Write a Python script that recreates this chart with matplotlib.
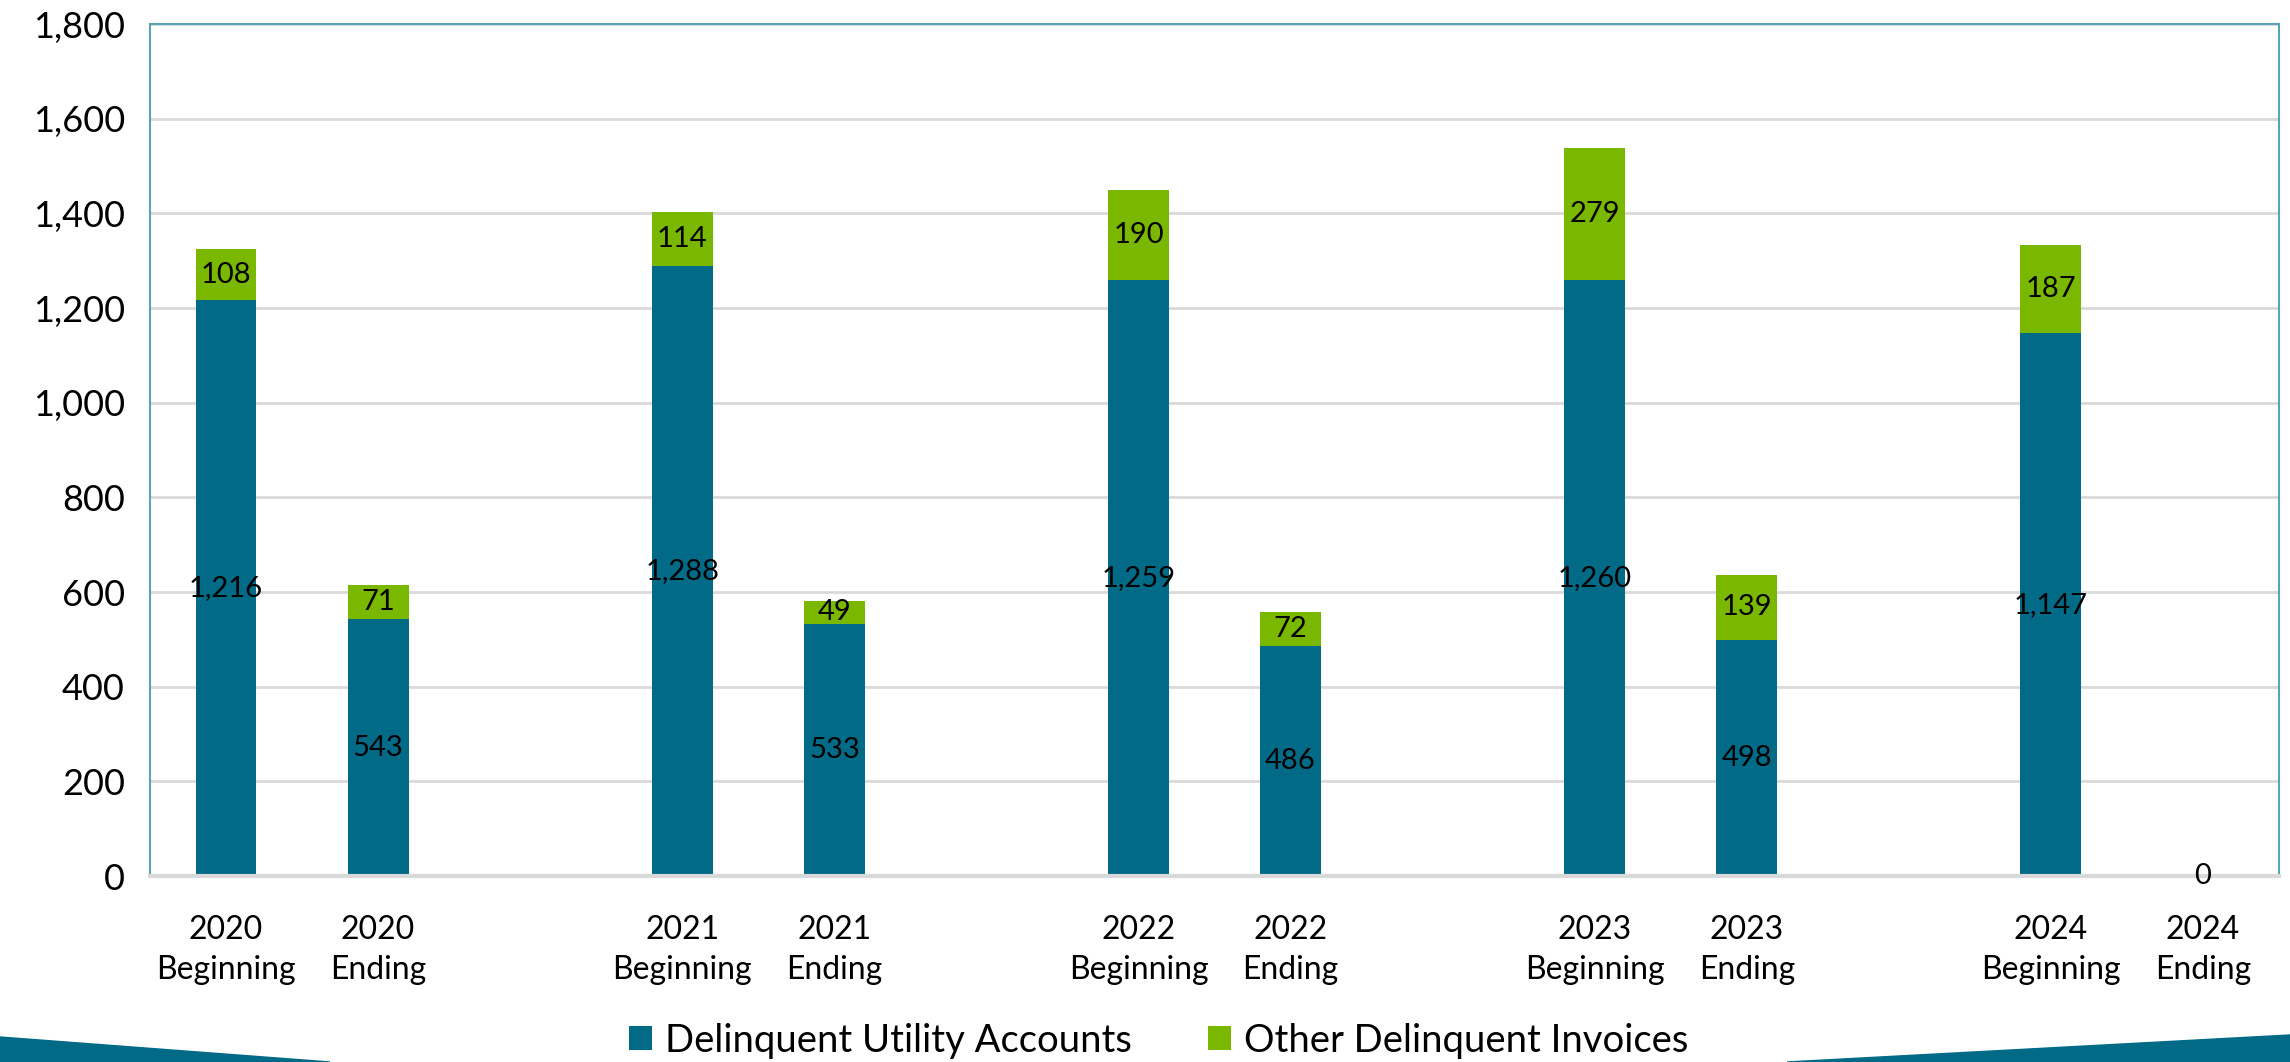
import numpy as np
import matplotlib.pyplot as plt
from matplotlib.patches import Polygon

plt.rcParams['font.family'] = ['Lato', 'DejaVu Sans']

YEARS = ["2020", "2021", "2022", "2023", "2024"]
PERIODS = ["Beginning", "Ending"]
UTILITY = [1216, 543, 1288, 533, 1259, 486, 1260, 498, 1147, 0]
OTHER = [108, 71, 114, 49, 190, 72, 279, 139, 187, 0]
SERIES_NAMES = ["Delinquent Utility Accounts", "Other Delinquent Invoices"]

TEAL = "#006a87"
GREEN = "#7ab800"
FRAME = "#5aa3b3"

# each year gets two slots, then one empty slot as a spacer
pos = []
labels = []
for i, yr in enumerate(YEARS):
    for j, per in enumerate(PERIODS):
        pos.append(i * 3 + j)
        labels.append(f"{yr}\n{per}")
pos = np.array(pos)

fig = plt.figure(figsize=(22.9, 10.62), dpi=100)
ax = fig.add_axes([0.0655, 0.1751, 0.9297, 0.8023])

b1 = ax.bar(pos, UTILITY, width=0.4, color=TEAL, zorder=3)
b2 = ax.bar(pos, OTHER, width=0.4, bottom=UTILITY, color=GREEN, zorder=3)

t1 = ax.bar_label(b1, labels=[f"{v:,}" for v in UTILITY], label_type="center", fontsize=21)
t2 = ax.bar_label(b2, labels=[f"{v:,}" if v else "" for v in OTHER], label_type="center", fontsize=21)
for t in t1 + t2:
    t.set_zorder(6)

ax.set_xlim(-0.5, 13.5)
ax.set_ylim(0, 1800)
ax.set_yticks(np.arange(0, 1801, 200))
ax.yaxis.set_major_formatter(plt.FuncFormatter(lambda v, _: f"{int(v):,}"))
ax.set_xticks(pos)
ax.set_xticklabels(labels, fontsize=23, linespacing=1.4)
ax.tick_params(axis="y", labelsize=26, length=0, pad=18)
ax.tick_params(axis="x", length=0, pad=28)

ax.grid(axis="y", color="#d9d9d9", linewidth=2, zorder=0)
for side in ["left", "right", "top"]:
    ax.spines[side].set_color(FRAME)
    ax.spines[side].set_linewidth(1.5)
ax.spines["bottom"].set_color("#d9d9d9")
ax.spines["bottom"].set_linewidth(3)
ax.spines["bottom"].set_zorder(4)

fig.legend([b1, b2], SERIES_NAMES, loc="center", bbox_to_anchor=(0.506, 0.02),
           ncol=2, frameon=False, fontsize=27.5, handlelength=0.6, handleheight=0.6,
           columnspacing=2.0, handletextpad=0.35)

# slanted bands along the bottom edge
W, H = 2290, 1062
fig.patches.append(Polygon([(0, 0), (0, 25 / H), (330 / W, 0)], closed=True,
                           transform=fig.transFigure, color=TEAL, zorder=0))
fig.patches.append(Polygon([(1787 / W, 0), (1, 27 / H), (1, 0)], closed=True,
                           transform=fig.transFigure, color=TEAL, zorder=0))

fig.savefig("out.png", dpi=100)
